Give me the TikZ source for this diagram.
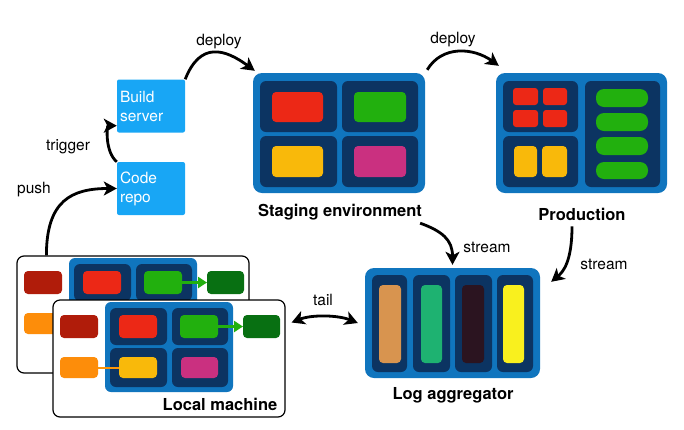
\documentclass[tikz,border=0pt]{standalone}
\usepackage{fontspec}
\setmainfont{TeX Gyre Heros}
\usetikzlibrary{arrows.meta}
\definecolor{svcblue}{RGB}{24,166,245}
\definecolor{envblue}{RGB}{16,117,190}
\definecolor{navy}{RGB}{12,52,98}
\definecolor{appred}{RGB}{236,40,22}
\definecolor{appgreen}{RGB}{34,176,14}
\definecolor{appyellow}{RGB}{249,185,10}
\definecolor{appmagenta}{RGB}{202,48,128}
\definecolor{appdarkred}{RGB}{176,28,10}
\definecolor{apporange}{RGB}{253,141,10}
\definecolor{appdarkgreen}{RGB}{8,112,18}
\definecolor{logtan}{RGB}{216,148,79}
\definecolor{loggreen}{RGB}{30,178,113}
\definecolor{logdark}{RGB}{43,20,32}
\definecolor{logyellow}{RGB}{249,240,30}

\begin{document}
\begin{tikzpicture}[x=1pt,y=-1pt,
  svc/.style={fill=svcblue,rounded corners=2pt,text=white,align=left,text width=62pt,inner sep=3pt,minimum width=68pt,minimum height=53pt,font=\fontsize{15.5}{19}\selectfont},
  envbox/.style={fill=envblue,rounded corners=9pt,inner sep=0pt},
  panel/.style={fill=navy,rounded corners=6pt},
  app/.style={rounded corners=4pt},
  frame/.style={draw=black,fill=white,line width=1.2pt,rounded corners=7pt,inner sep=0pt,minimum width=232pt,minimum height=117pt},
  lbl/.style={font=\fontsize{15.5}{18}\selectfont,inner sep=1pt},
  title/.style={font=\bfseries\fontsize{16.5}{19}\selectfont,inner sep=1pt},
  flow/.style={line width=2.8pt,-{Stealth[length=13pt,width=14pt,inset=3.5pt]}},
  flowboth/.style={line width=2.8pt,{Stealth[length=13pt,width=14pt,inset=3.5pt]}-{Stealth[length=13pt,width=14pt,inset=3.5pt]}}]
\path[use as bounding box] (0,0) rectangle (684,429);

% build chain
\node[svc] (build) at (151,106) {Build\\server};
\node[svc] (repo) at (151,188.5) {Code\\repo};

% staging environment
\node[envbox,minimum width=172pt,minimum height=120pt] (staging) at (339,133) {};
\fill[panel] (260,81) rectangle (337,132);
\fill[panel] (342,81) rectangle (418,132);
\fill[panel] (260,136) rectangle (337,187);
\fill[panel] (342,136) rectangle (418,187);
\fill[app,appred] (272,92) rectangle (323,122);
\fill[app,appgreen] (354,92) rectangle (406,122);
\fill[app,appyellow] (272,146) rectangle (323,177);
\fill[app,appmagenta] (354,146) rectangle (406,177);
\node[title] (stagelbl) at (340,212) {Staging environment};

% production
\node[envbox,minimum width=171pt,minimum height=120pt] (prod) at (581.5,133) {};
\fill[panel] (503,81) rectangle (578,132);
\fill[panel] (503,136) rectangle (578,187);
\fill[panel] (585,81) rectangle (660,187);
\fill[app,appred,rounded corners=3pt] (513,88) rectangle (538,105);
\fill[app,appred,rounded corners=3pt] (543,88) rectangle (567,105);
\fill[app,appred,rounded corners=3pt] (513,110) rectangle (538,127);
\fill[app,appred,rounded corners=3pt] (543,110) rectangle (567,127);
\fill[app,appyellow] (514,146) rectangle (537,177);
\fill[app,appyellow] (542,146) rectangle (567,177);
\fill[appgreen,rounded corners=8pt] (596,89) rectangle (648,107);
\fill[appgreen,rounded corners=8pt] (596,113) rectangle (648,131);
\fill[appgreen,rounded corners=8pt] (596,137) rectangle (648,155);
\fill[appgreen,rounded corners=8pt] (596,162) rectangle (648,179);
\node[title] (prodlbl) at (582,214) {Production};

% log aggregator
\node[envbox,minimum width=175pt,minimum height=110pt] (logagg) at (452.5,323) {};
\fill[panel] (372,275) rectangle (407,372);
\fill[panel] (413,275) rectangle (450,372);
\fill[panel] (455,275) rectangle (492,372);
\fill[panel] (497,275) rectangle (533,372);
\fill[app,logtan] (379,285) rectangle (401,363);
\fill[app,loggreen] (421,285) rectangle (442,363);
\fill[app,logdark] (462,285) rectangle (484,363);
\fill[app,logyellow] (503,285) rectangle (524,363);
\node[title] (loglbl) at (453,395) {Log aggregator};

% local machines, back one first
\foreach \dx/\dy/\nm in {0/0/localback,36/44/localfront}{
  \begin{scope}[shift={(\dx,\dy)}]
  \node[frame] (\nm) at (133,314.5) {};
  \fill[envblue,rounded corners=6pt] (69,258) rectangle (197,348);
  \fill[panel] (74,264) rectangle (131,301);
  \fill[panel] (136,264) rectangle (192,301);
  \fill[panel] (74,304) rectangle (131,343);
  \fill[panel] (136,304) rectangle (192,343);
  \fill[app,appdarkred] (24,271) rectangle (62,294);
  \fill[app,apporange] (24,313) rectangle (62,334);
  \fill[app,appred] (83,271) rectangle (121,294);
  \fill[app,appgreen] (144,271) rectangle (182,294);
  \fill[app,appdarkgreen] (207,271) rectangle (244,294);
  \draw[line width=2pt,apporange!80!appyellow] (62,323.5) -- (83,323.5);
  \fill[app,appyellow] (83,313) rectangle (121,334);
  \fill[app,appmagenta] (145,313) rectangle (182,334);
  \draw[line width=2.8pt,appgreen,-{Triangle[length=9pt,width=11pt]}] (182,282.5) -- (207,282.5);
  \end{scope}
}
\node[title] (locallbl) at (220,404) {Local machine};

% connectors
\draw[flow] ([shift={(30,0)}]localback.north west) .. controls +(0,-55) and +(-45,0) .. (repo.west);
\draw[flow] (repo.north west) .. controls +(-12,-10) and +(-10,0) .. ([shift={(0,-7)}]build.south west);
\draw[flow] (build.north east) .. controls +(15,-38) and +(-30,-22) .. ([shift={(2,-2)}]staging.north west);
\draw[flow] ([shift={(2,-3)}]staging.north east) .. controls +(15,-25) and +(-25,-18) .. ([shift={(3,-7)}]prod.north west);
\draw[flow] ([shift={(-3,2)}]stagelbl.south east) .. controls +(22,8) and +(0,-25) .. ([shift={(0,-3)}]logagg.north);
\draw[flow] ([shift={(-10,5)}]prodlbl.south) .. controls +(0,35) and +(12,-10) .. ([shift={(11,14)}]logagg.north east);
\draw[flowboth] ([shift={(6,-36)}]localfront.east) .. controls +(20,-8) and +(-20,-8) .. ([shift={(-7,0)}]logagg.west);

% connector labels
\node[lbl] at (219,42) {deploy};
\node[lbl] at (453,40) {deploy};
\node[lbl] at (68,147) {trigger};
\node[lbl] at (34,190) {push};
\node[lbl] at (487,247) {stream};
\node[lbl] at (604,264) {stream};
\node[lbl] at (323,300) {tail};
\end{tikzpicture}
\end{document}
